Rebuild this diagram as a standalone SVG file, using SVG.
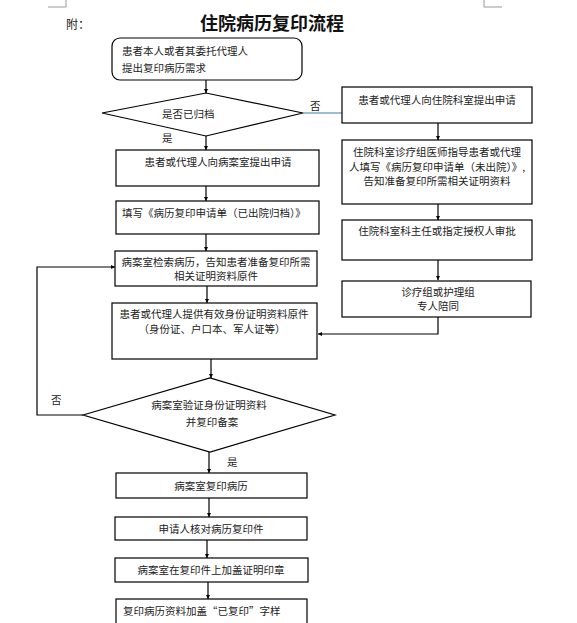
<svg xmlns="http://www.w3.org/2000/svg" width="577" height="623" viewBox="0 0 577 623">
<style>
.box{fill:#fff;stroke:#000;stroke-width:1.2}
.t{font-family:"Noto Sans CJK SC","Liberation Sans",sans-serif;font-size:10.5px;fill:#222}
.c{stroke:#000;stroke-width:1.2;fill:none}
.title{font-family:"Noto Sans CJK SC",sans-serif;font-size:18px;font-weight:bold;fill:#111}
</style>
<defs>
<marker id="ah" viewBox="0 0 6 6" refX="6" refY="3" markerWidth="4" markerHeight="4" orient="auto" markerUnits="userSpaceOnUse">
<path d="M0,0 L6,3 L0,6 z" fill="#000"/>
</marker>
</defs>
<rect width="577" height="623" fill="#fff"/>
<g id="marks" stroke="#999" stroke-width="1" fill="none">
<path d="M48,7 H66 V0"/>
<path d="M484,0 V7 H502"/>
</g>
<text x="66" y="29" class="t" style="font-size:12px">附：</text>
<text x="272" y="30" class="title" text-anchor="middle">住院病历复印流程</text>

<g id="connectors">
<path class="c" d="M206,80 V93" marker-end="url(#ah)"/>
<path class="c" d="M206,136 V150" marker-end="url(#ah)"/>
<path d="M303,113 H342" stroke="#3a7ca5" stroke-width="1.2" fill="none"/>
<path class="c" d="M206,186 V201" marker-end="url(#ah)"/>
<path class="c" d="M206,234 V251" marker-end="url(#ah)"/>
<path class="c" d="M207,286 V303" marker-end="url(#ah)"/>
<path class="c" d="M211,359 V378" marker-end="url(#ah)"/>
<path class="c" d="M83,415 H37 V267 H115" marker-end="url(#ah)"/>
<path class="c" d="M209,452 V473" marker-end="url(#ah)"/>
<path class="c" d="M209,498 V517" marker-end="url(#ah)"/>
<path class="c" d="M207,540 V558" marker-end="url(#ah)"/>
<path class="c" d="M208,582 V599" marker-end="url(#ah)"/>
<path class="c" d="M438,123 V140" marker-end="url(#ah)"/>
<path class="c" d="M438,204 V220" marker-end="url(#ah)"/>
<path class="c" d="M438,260 V280" marker-end="url(#ah)"/>
<path class="c" d="M438,317 V334 H318" marker-end="url(#ah)"/>
</g>

<g id="n_start">
<rect class="box" x="112" y="38" width="190" height="42" rx="8"/>
<text class="t" x="122" y="55">患者本人或者其委托代理人</text>
<text class="t" x="122" y="72">提出复印病历需求</text>
</g>
<g id="n_d1">
<polygon class="box" points="102,113 206,93 303,113 206,136"/>
<text class="t" x="162" y="118">是否已归档</text>
</g>
<text class="t" x="310" y="110">否</text>
<text class="t" x="162" y="142">是</text>

<g id="n_l1">
<rect class="box" x="116" y="150" width="203" height="36"/>
<text class="t" x="218" y="166" text-anchor="middle">患者或代理人向病案室提出申请</text>
</g>
<g id="n_l2">
<rect class="box" x="116" y="201" width="203" height="33"/>
<text class="t" x="122" y="217">填写《病历复印申请单（已出院归档）》</text>
</g>
<g id="n_l3">
<rect class="box" x="115" y="251" width="202" height="35"/>
<text class="t" x="216" y="266" text-anchor="middle">病案室检索病历，告知患者准备复印所需</text>
<text class="t" x="216" y="280" text-anchor="middle">相关证明资料原件</text>
</g>
<g id="n_l4">
<rect class="box" x="112" y="303" width="205" height="56"/>
<text class="t" x="214" y="318" text-anchor="middle">患者或代理人提供有效身份证明资料原件</text>
<text class="t" x="212" y="333" text-anchor="middle">（身份证、户口本、军人证等）</text>
</g>
<g id="n_d2">
<polygon class="box" points="83,415 210,378 335,415 210,452"/>
<text class="t" x="209" y="409" text-anchor="middle">病案室验证身份证明资料</text>
<text class="t" x="212" y="426" text-anchor="middle">并复印备案</text>
</g>
<text class="t" x="51" y="404">否</text>
<text class="t" x="227" y="466">是</text>

<g id="n_l5">
<rect class="box" x="116" y="473" width="191" height="25"/>
<text class="t" x="211" y="490" text-anchor="middle">病案室复印病历</text>
</g>
<g id="n_l6">
<rect class="box" x="115" y="517" width="192" height="23"/>
<text class="t" x="211" y="533" text-anchor="middle">申请人核对病历复印件</text>
</g>
<g id="n_l7">
<rect class="box" x="115" y="558" width="193" height="24"/>
<text class="t" x="211" y="574" text-anchor="middle">病案室在复印件上加盖证明印章</text>
</g>
<g id="n_l8">
<rect class="box" x="116" y="599" width="191" height="30"/>
<text class="t" x="123" y="615">复印病历资料加盖“已复印”字样</text>
</g>

<g id="n_r1">
<rect class="box" x="342" y="87" width="190" height="36"/>
<text class="t" x="437" y="104" text-anchor="middle">患者或代理人向住院科室提出申请</text>
</g>
<g id="n_r2">
<rect class="box" x="342" y="140" width="190" height="64"/>
<text class="t" x="437" y="156" text-anchor="middle">住院科室诊疗组医师指导患者或代理</text>
<text class="t" x="437" y="171" text-anchor="middle">人填写《病历复印申请单（未出院）》,</text>
<text class="t" x="437" y="185" text-anchor="middle">告知准备复印所需相关证明资料</text>
</g>
<g id="n_r3">
<rect class="box" x="342" y="220" width="190" height="40"/>
<text class="t" x="437" y="235" text-anchor="middle">住院科室科主任或指定授权人审批</text>
</g>
<g id="n_r4">
<rect class="box" x="342" y="281" width="189" height="36"/>
<text class="t" x="438" y="296" text-anchor="middle">诊疗组或护理组</text>
<text class="t" x="438" y="310" text-anchor="middle">专人陪同</text>
</g>
</svg>
